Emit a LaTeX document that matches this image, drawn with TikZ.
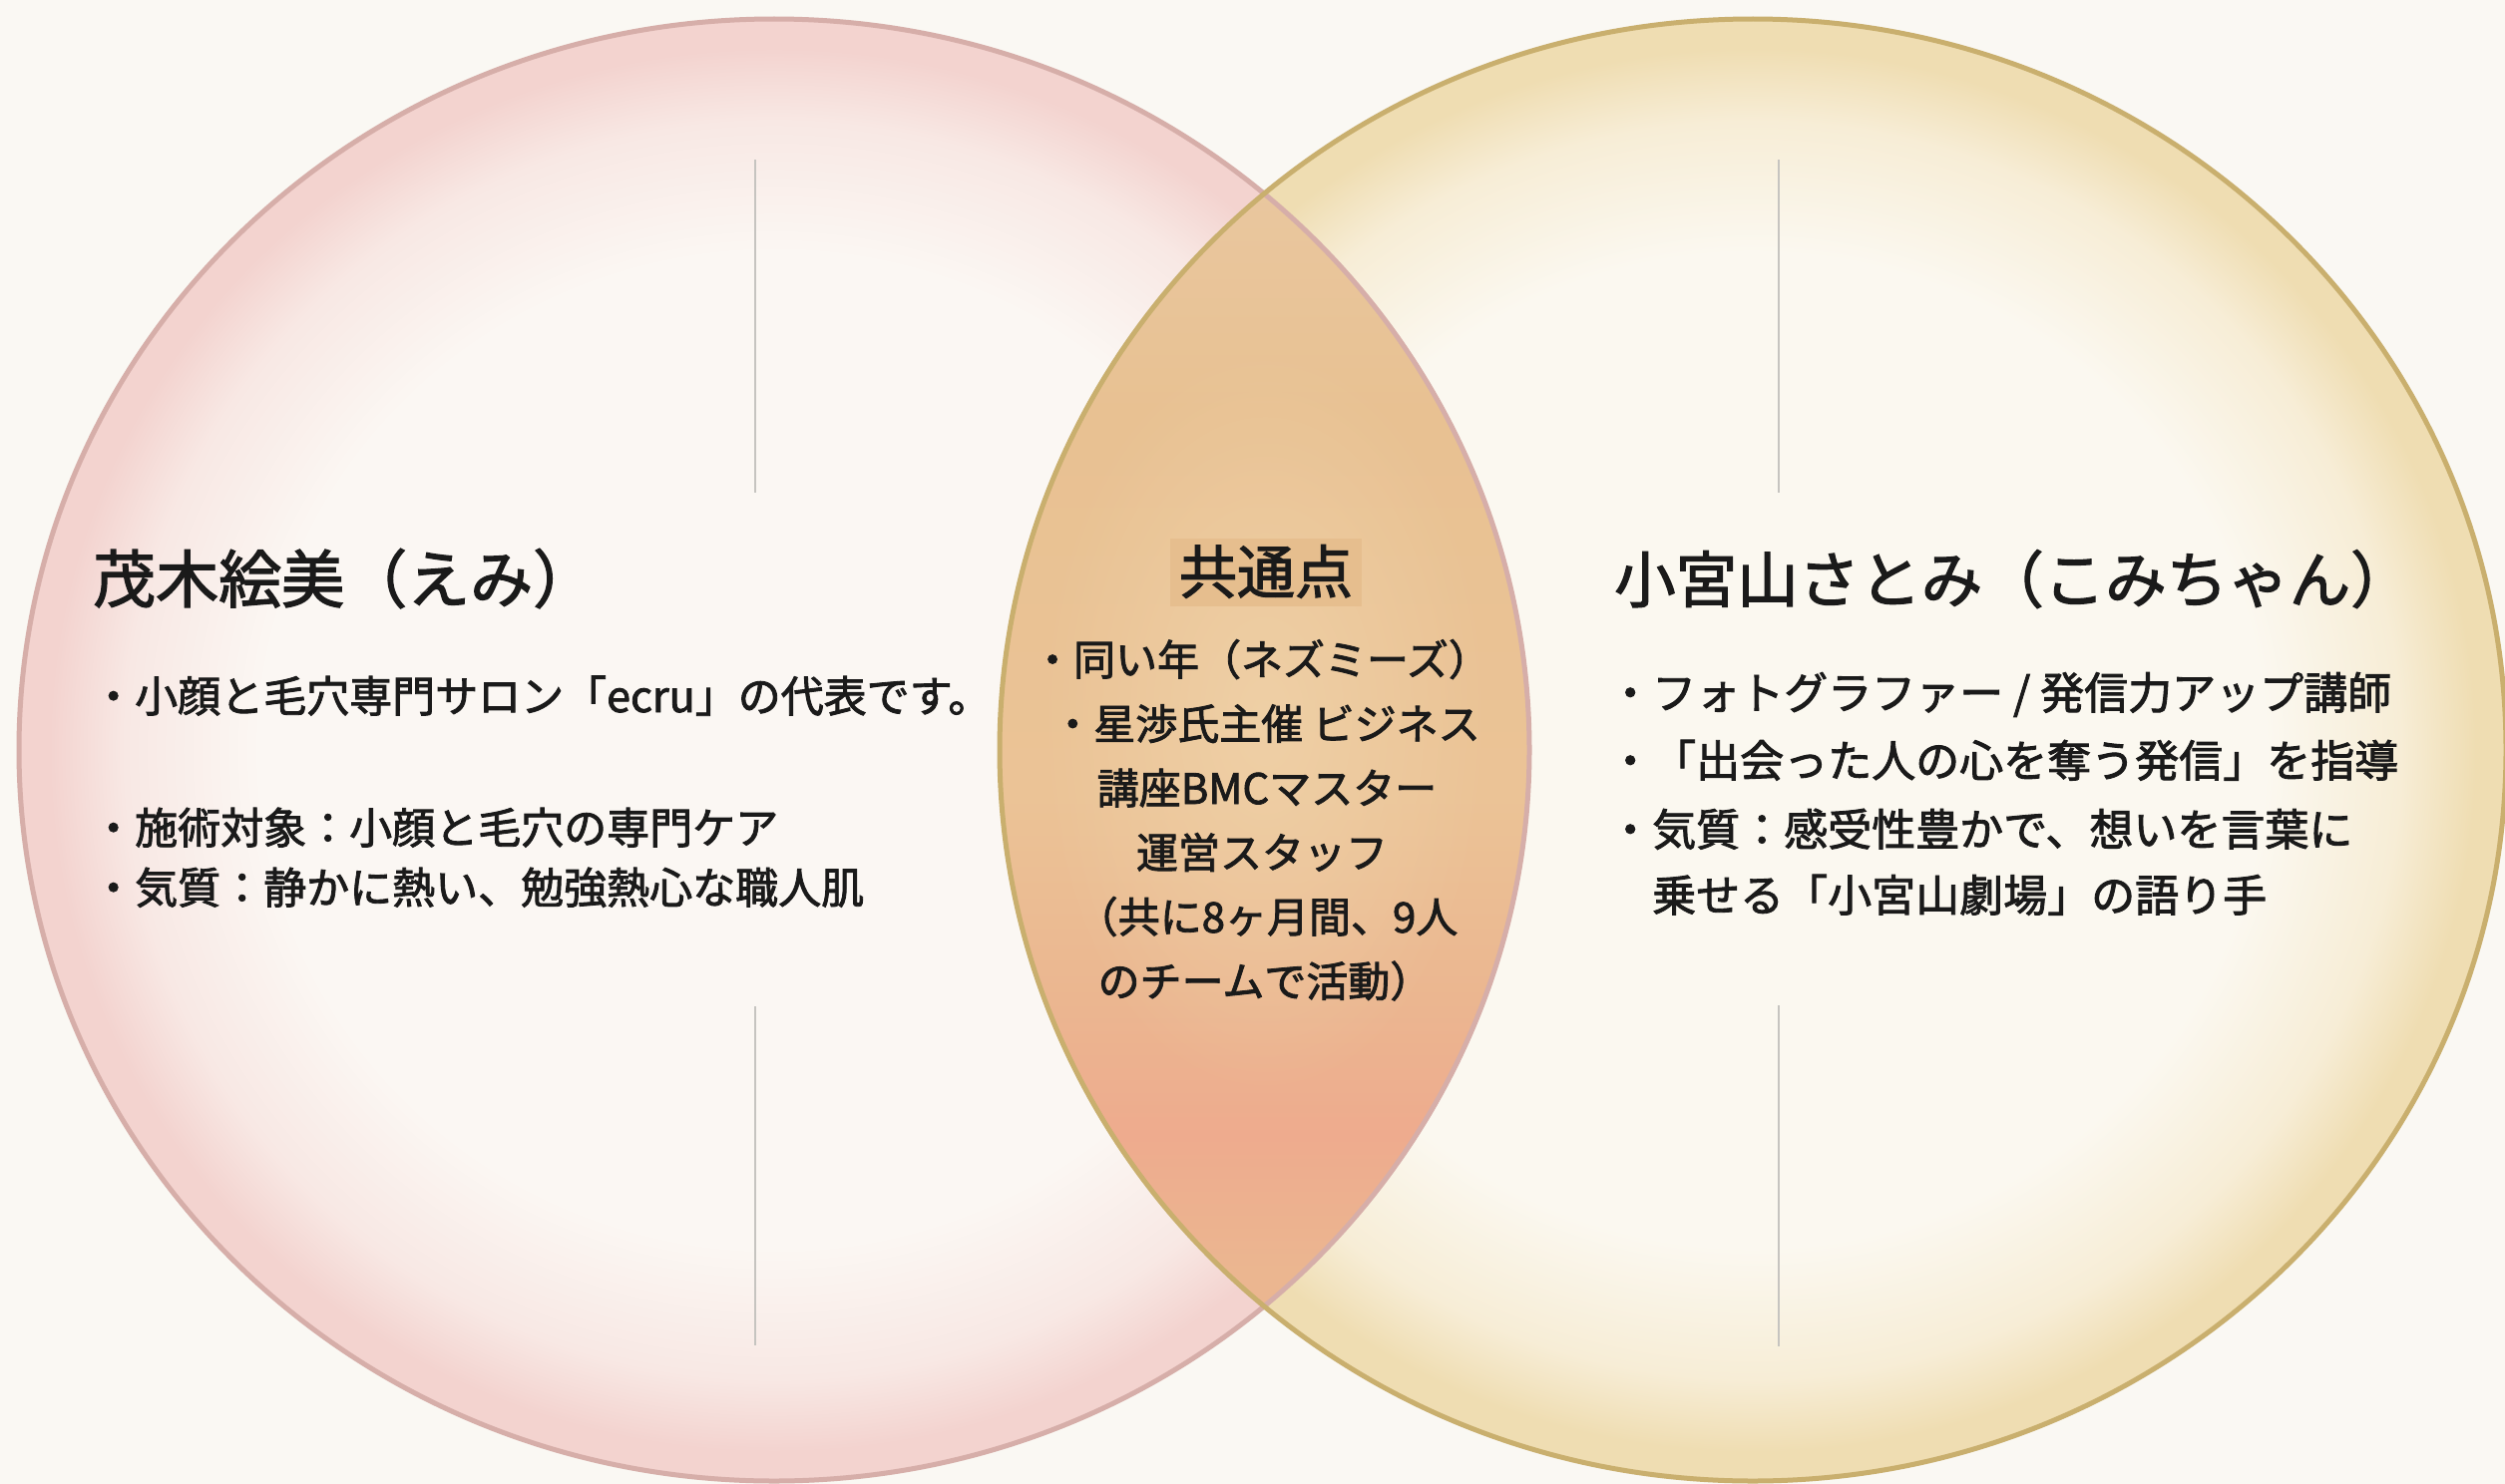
\documentclass[tikz,border=0pt]{standalone}
\usepackage{fontspec}
\setmainfont{Noto Sans CJK JP}[FakeBold=2]
\usetikzlibrary{fadings}
\definecolor{bg}{HTML}{FAF8F3}
\definecolor{pkc}{HTML}{FBF7F3}
\definecolor{pkm}{HTML}{F8E8E4}
\definecolor{pke}{HTML}{F3D3CF}
\definecolor{pkline}{HTML}{D6AEA9}
\definecolor{gdc}{HTML}{FBF8F0}
\definecolor{gdm}{HTML}{F7EDD6}
\definecolor{gde}{HTML}{EFDDB2}
\definecolor{gdline}{HTML}{C9AF6E}
\definecolor{lsal}{HTML}{EEAB8E}
\definecolor{lmidA}{HTML}{EBB690}
\definecolor{lmidB}{HTML}{EBC396}
\definecolor{ltopA}{HTML}{E8C192}
\definecolor{ltopB}{HTML}{E9C79F}
\definecolor{lblob}{HTML}{F0D3AA}
\definecolor{hl}{HTML}{E6BE8E}
\definecolor{txt}{HTML}{1A1A1A}
\definecolor{vline}{HTML}{C6C4C0}
\pgfdeclareradialshading{pinkring}{\pgfpoint{0bp}{0bp}}{color(0bp)=(pkc); color(17bp)=(pkc); color(21.5bp)=(pkm); color(24bp)=(pke); color(25bp)=(pke); color(50bp)=(pke)}
\pgfdeclareradialshading{goldring}{\pgfpoint{0bp}{0bp}}{color(0bp)=(gdc); color(17bp)=(gdc); color(21.5bp)=(gdm); color(24bp)=(gde); color(25bp)=(gde); color(50bp)=(gde)}
\pgfdeclareverticalshading{lensv}{100bp}{color(0bp)=(lmidA); color(27bp)=(lmidA); color(33bp)=(lsal); color(39bp)=(lmidA); color(48bp)=(lmidB); color(65bp)=(ltopA); color(75bp)=(ltopB); color(100bp)=(ltopB)}
\tikzfading[name=blobfade, inner color=transparent!20, outer color=transparent!100]
\begin{document}
\begin{tikzpicture}[x=1pt,y=-1pt,
  vl/.style={vline, line width=2.5pt},
  ttl/.style={inner sep=0pt, anchor=base west, text=txt},
  bl/.style={inner sep=0pt, anchor=base west, text=txt, font=\fontsize{43}{50}\selectfont},
  br/.style={inner sep=0pt, anchor=base west, text=txt, font=\fontsize{44}{50}\selectfont},
  bc/.style={inner sep=0pt, anchor=base, text=txt, font=\fontsize{42}{50}\selectfont}]
\useasboundingbox (0,0) rectangle (2511,1488);
\fill[bg] (0,0) rectangle (2511,1488);
\coordinate (lc) at (776,752);
\coordinate (rc) at (1757,752);
\shade[shading=pinkring] (lc) ellipse [x radius=757, y radius=733];
\shade[shading=goldring] (rc) ellipse [x radius=755, y radius=733];
\begin{scope}
  \clip (lc) ellipse [x radius=757, y radius=733];
  \clip (rc) ellipse [x radius=755, y radius=733];
  \shade[shading=lensv] (995,185) rectangle (1540,1320);
  \fill[lblob, path fading=blobfade] (1268,720) ellipse [x radius=230, y radius=380];
\end{scope}
\draw[pkline, line width=5pt] (lc) ellipse [x radius=757, y radius=733];
\draw[gdline, line width=5pt] (rc) ellipse [x radius=755, y radius=733];
% vertical rules
\coordinate (la) at (757,160); \coordinate (lb) at (757,494);
\coordinate (lcc) at (757,1009); \coordinate (ld) at (757,1349);
\coordinate (ra) at (1783,160); \coordinate (rb) at (1783,494);
\coordinate (rcc) at (1783,1008); \coordinate (rd) at (1783,1350);
\draw[vl] (la) -- (lb);
\draw[vl] (lcc) -- (ld);
\draw[vl] (ra) -- (rb);
\draw[vl] (rcc) -- (rd);
% left
\node[ttl, font=\fontsize{63}{70}\selectfont] (lt) at (93,604) {茂木絵美（えみ）};
\node[bl] (l1) at (92,714) {・小顔と毛穴専門サロン「ecru」の代表です。};
\node[bl] (l2) at (92,846) {・施術対象：小顔と毛穴の専門ケア};
\node[bl] (l3) at (92,906) {・気質：静かに熱い、勉強熱心な職人肌};
% center
\node[fill=hl, minimum width=192pt, minimum height=68pt, inner sep=0pt] (hlbox) at (1269,574) {};
\node[inner sep=0pt, anchor=base, text=txt, font=\fontsize{58}{64}\selectfont] (ct) at (1269,595) {共通点};
\node[bc] (c1) at (1264,677) {・同い年（ネズミーズ）};
\node[bc] (c2) at (1269,741.5) {・星渉氏主催 ビジネス};
\node[bc] (c3) at (1270,806) {講座BMCマスター};
\node[bc] (c4) at (1265,870.5) {運営スタッフ};
\node[bc] (c5) at (1270,935) {（共に8ヶ月間、9人};
\node[bc] (c6) at (1268,999.5) {のチームで活動）};
% right
\node[ttl, font=\fontsize{61.5}{70}\selectfont] (rt) at (1618,604) {小宮山さとみ（こみちゃん）};
\node[br] (r1) at (1612,711) {・フォトグラファー / 発信力アップ講師};
\node[br] (r2) at (1612,779) {・「出会った人の心を奪う発信」を指導};
\node[br] (r3) at (1612,848) {・気質：感受性豊かで、想いを言葉に};
\node[br] (r4) at (1612,914) {　乗せる「小宮山劇場」の語り手};
\end{tikzpicture}
\end{document}
